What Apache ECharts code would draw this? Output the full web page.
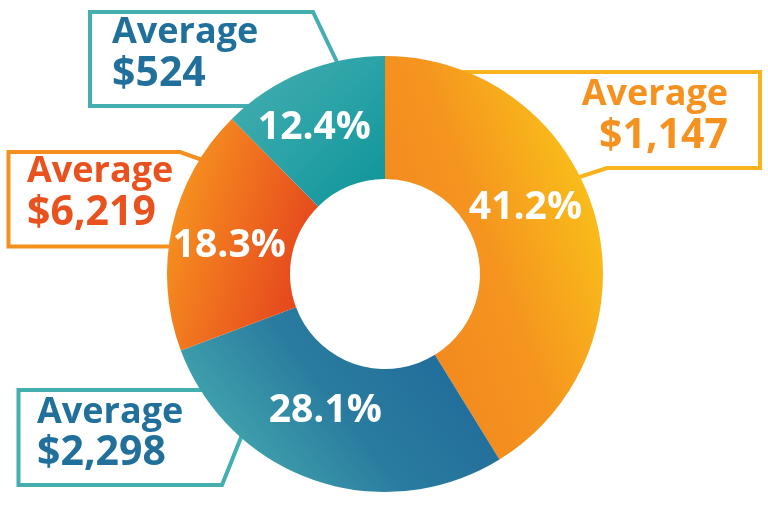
<!DOCTYPE html>
<html>
<head>
<meta charset="utf-8">
<script src="https://cdn.jsdelivr.net/npm/echarts@6/dist/echarts.min.js"></script>
<style>
html,body{margin:0;padding:0;background:#fff;}
#chart{width:768px;height:507px;}
</style>
</head>
<body>
<div id="chart"></div>
<script>
// ---- data ----
const categories = ['Segment 1', 'Segment 2', 'Segment 3', 'Segment 4'];
const shares = [41.2, 28.1, 18.3, 12.4];           // percent of total
const averageLabel = 'Average';
const averages = ['$1,147', '$2,298', '$6,219', '$524'];

// ---- styles ----
const FONT = '"Open Sans", "Noto Sans", sans-serif';
const sliceGradients = [
  {x:0, y:0.6, x2:1, y2:0.4, stops:['#F2871F', '#F5951F', '#F9BE1A']},
  {x:0.85, y:0, x2:0.1, y2:1, stops:['#20699A', '#2A7C9F', '#48B1B2']},
  {x:0, y:0.4, x2:1, y2:0.6, stops:['#F6931F', '#EE6A1F', '#E3431D']},
  {x:0, y:0, x2:1, y2:1, stops:['#47AEB1', '#2BA3A7', '#0C9498']}
];
const labelNudge = [[-13, -23], [-8, -14], [0, 6], [-10, 1]];

const calloutStyles = [
  {border:'#F8B31C', text:'#F5911E', align:'right', x:728, y1:95, y2:136,
   pts:[[455,72],[760,72],[760,168],[607,168],[555,185]]},
  {border:'#45AEB1', text:'#21709B', align:'left', x:37, y1:413, y2:453,
   pts:[[225,390],[18.5,390],[18.5,485],[222,485],[252,410]]},
  {border:'#F5901F', text:'#E9511E', align:'left', x:27, y1:172, y2:213,
   pts:[[185,246.5],[8.5,246.5],[8.5,152],[180,152],[225,168]]},
  {border:'#45AEB1', text:'#21709B', align:'left', x:112, y1:33, y2:74,
   pts:[[265,106],[90,106],[90,12],[313,12],[348,85]]}
];

const chart = echarts.init(document.getElementById('chart'), null, {renderer:'canvas'});

const pieData = shares.map((v, i) => {
  const g = sliceGradients[i];
  const n = g.stops.length;
  return {
    name: categories[i],
    value: v,
    itemStyle: {
      color: new echarts.graphic.LinearGradient(g.x, g.y, g.x2, g.y2,
        g.stops.map((c, k) => ({offset: k / (n - 1), color: c})))
    }
  };
});

const graphics = [];
calloutStyles.forEach((s, i) => {
  graphics.push({
    type: 'polyline', z: 0, silent: true,
    shape: {points: s.pts},
    style: {stroke: s.border, lineWidth: 4, fill: null, lineJoin: 'miter'}
  });
  graphics.push({
    type: 'text', z: 10, silent: true,
    x: s.x, y: s.y1,
    style: {text: averageLabel, fill: s.text, font: '700 36px ' + FONT,
            align: s.align, verticalAlign: 'middle', textAlign: s.align, textVerticalAlign: 'middle'}
  });
  graphics.push({
    type: 'text', z: 10, silent: true,
    x: s.x, y: s.y2,
    style: {text: averages[i], fill: s.text, font: '700 41px ' + FONT,
            align: s.align, verticalAlign: 'middle', textAlign: s.align, textVerticalAlign: 'middle'}
  });
});

chart.setOption({
  animation: false,
  backgroundColor: '#ffffff',
  graphic: {elements: graphics},
  series: [{
    type: 'pie',
    z: 5,
    center: [385, 274],
    radius: [95, 218],
    startAngle: 90,
    clockwise: true,
    silent: true,
    emphasis: {disabled: true},
    itemStyle: {borderWidth: 0},
    label: {
      show: true,
      position: 'inside',
      color: '#ffffff',
      fontFamily: FONT,
      fontWeight: 700,
      fontSize: 39,
      formatter: p => p.value.toFixed(1) + '%'
    },
    labelLine: {show: false},
    labelLayout: p => ({dx: labelNudge[p.dataIndex][0], dy: labelNudge[p.dataIndex][1]}),
    data: pieData
  }]
});
</script>
</body>
</html>
